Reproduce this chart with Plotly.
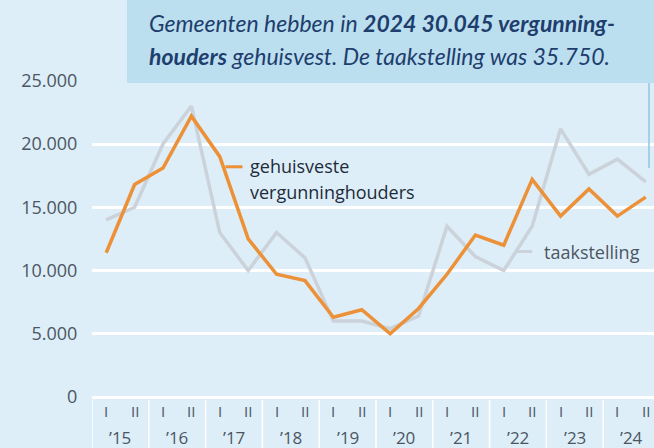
import plotly.graph_objects as go

periods = [f"{y} {h}" for y in range(2015, 2025) for h in ("I", "II")]
half_labels = ["I", "II"] * 10
year_labels = ["’15", "’16", "’17", "’18", "’19", "’20", "’21", "’22", "’23", "’24"]
gehuisvest = [11400, 16800, 18100, 22200, 19000, 12500, 9700, 9200, 6300, 6900,
              5000, 7000, 9700, 12800, 12000, 17200, 14300, 16450, 14300, 15800]
taakstelling = [14000, 15000, 20000, 23000, 13000, 10000, 13000, 11000, 6000, 6000,
                5400, 6400, 13500, 11100, 10000, 13500, 21200, 17600, 18800, 17000]
y_ticks = [0, 5000, 10000, 15000, 20000, 25000]
y_ticktext = ["0", "5.000", "10.000", "15.000", "20.000", "25.000"]

BG = "#DDEEF8"
BOX = "#BCDFEF"
ORANGE = "#EC9138"
GREY = "#CBD2DA"
TXT = "#4C5662"
FONT = "Open Sans"

x = list(range(len(periods)))

fig = go.Figure()
fig.add_trace(go.Scatter(x=x, y=taakstelling, mode="lines",
                         line=dict(color=GREY, width=3.5), hoverinfo="skip"))
fig.add_trace(go.Scatter(x=x, y=gehuisvest, mode="lines",
                         line=dict(color=ORANGE, width=3.5), hoverinfo="skip"))

shapes = []
annotations = []

# title box
shapes.append(dict(type="rect", xref="paper", yref="paper",
                   x0=(127 - 92) / 562, x1=1.01, y0=(397 - 83) / 317, y1=1.3,
                   fillcolor=BOX, line=dict(width=0), layer="above"))
# thin vertical connector on the right
shapes.append(dict(type="line", xref="paper", yref="paper",
                   x0=(649 - 92) / 562, x1=(649 - 92) / 562,
                   y0=(397 - 168) / 317, y1=(397 - 83) / 317,
                   line=dict(color="#8DC6E6", width=1.5), layer="above"))

annotations.append(dict(xref="paper", yref="paper", x=(147 - 92) / 562, y=(397 - 23) / 317,
                        xanchor="left", yanchor="middle", showarrow=False,
                        text="<i>Gemeenten hebben in <b>2024 30.045 vergunning-</b></i>",
                        font=dict(family="Lato", size=23, color="#1E3E6E")))
annotations.append(dict(xref="paper", yref="paper", x=(147 - 92) / 562, y=(397 - 56) / 317,
                        xanchor="left", yanchor="middle", showarrow=False,
                        text="<i><b>houders</b> gehuisvest. De taakstelling was 35.750.</i>",
                        font=dict(family="Lato", size=23, color="#1E3E6E")))

# category cells at the bottom
for k in range(len(year_labels) + 1):
    xb = 2 * k - 0.5
    shapes.append(dict(type="line", xref="x", yref="paper", x0=xb, x1=xb,
                       y0=(397 - 400) / 317, y1=(397 - 452) / 317,
                       line=dict(color="white", width=1.5), layer="above"))
for i, h in enumerate(half_labels):
    annotations.append(dict(xref="x", yref="paper", x=i, y=(397 - 411) / 317,
                            text=h, showarrow=False, xanchor="center", yanchor="middle",
                            font=dict(family=FONT, size=15, color=TXT)))
for k, yl in enumerate(year_labels):
    annotations.append(dict(xref="x", yref="paper", x=2 * k + 0.5, y=(397 - 437) / 317,
                            text=yl, showarrow=False, xanchor="center", yanchor="middle",
                            font=dict(family=FONT, size=17, color=TXT)))

# series labels
shapes.append(dict(type="line", xref="x", yref="y", x0=4.2, x1=4.8,
                   y0=18200, y1=18200, line=dict(color=ORANGE, width=3)))
annotations.append(dict(xref="x", yref="y", x=4.98, y=18250, text="gehuisveste",
                        showarrow=False, xanchor="left", yanchor="middle",
                        font=dict(family=FONT, size=18, color="#1E2B3A")))
annotations.append(dict(xref="x", yref="y", x=4.98, y=16200, text="vergunninghouders",
                        showarrow=False, xanchor="left", yanchor="middle",
                        font=dict(family=FONT, size=18, color="#1E2B3A")))
shapes.append(dict(type="line", xref="x", yref="y", x0=14.45, x1=15.0,
                   y0=11500, y1=11500, line=dict(color=GREY, width=3)))
annotations.append(dict(xref="x", yref="y", x=15.35, y=11500, text="taakstelling",
                        showarrow=False, xanchor="left", yanchor="middle",
                        font=dict(family=FONT, size=18, color=TXT)))

fig.update_layout(
    width=654, height=448,
    margin=dict(l=92, r=0, t=80, b=51),
    paper_bgcolor=BG, plot_bgcolor=BG,
    showlegend=False,
    shapes=shapes, annotations=annotations,
    xaxis=dict(range=[-0.5, 19.29], showgrid=False, zeroline=False,
               showticklabels=False, fixedrange=True),
    yaxis=dict(range=[0, 25060], tickvals=y_ticks, ticktext=y_ticktext,
               showgrid=True, gridcolor="white", gridwidth=3,
               zeroline=True, zerolinecolor="white", zerolinewidth=3,
               ticks="outside", ticklen=10, tickcolor="rgba(0,0,0,0)",
               tickfont=dict(family=FONT, size=18, color=TXT), fixedrange=True),
)

fig.write_html(
    "out.html",
    config={"displayModeBar": False},
    post_script="document.body.style.margin='0';document.body.style.overflow='hidden';document.body.style.background='#DDEEF8';",
)
